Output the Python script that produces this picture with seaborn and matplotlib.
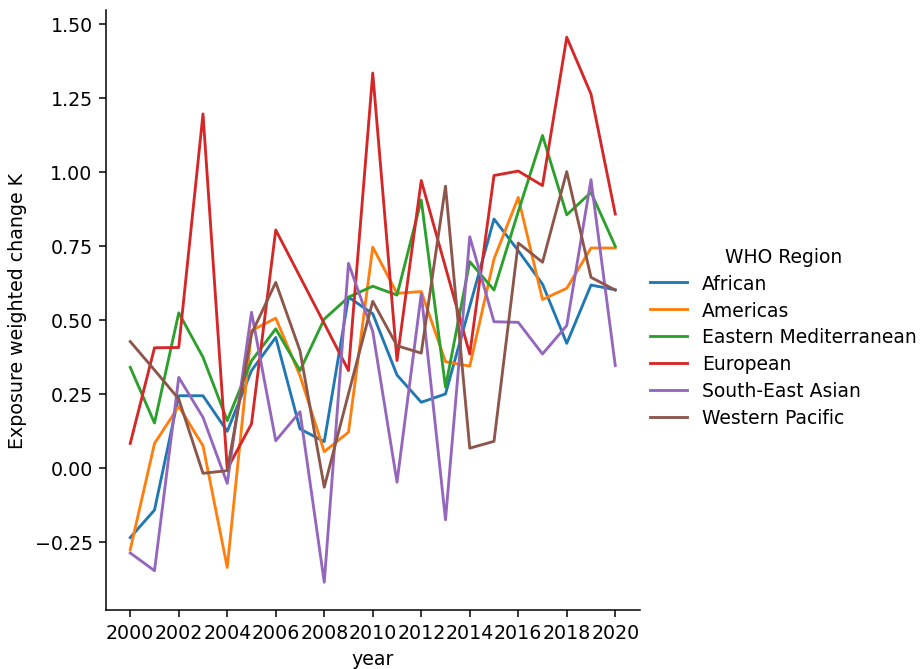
import matplotlib
matplotlib.use("Agg")
import matplotlib.pyplot as plt
import seaborn as sns
import pandas as pd

years = list(range(2000, 2021))
regions = ["African", "Americas", "Eastern Mediterranean", "European",
           "South-East Asian", "Western Pacific"]

african = [-0.236, -0.143, 0.243, 0.243, 0.123, 0.328, 0.440, 0.131, 0.088, 0.576, 0.520,
           0.313, 0.221, 0.249, 0.545, 0.840, 0.733, 0.620, 0.420, 0.617, 0.601]
americas = [-0.277, 0.082, 0.207, 0.074, -0.337, 0.463, 0.505, 0.311, 0.054, 0.120, 0.745,
            0.589, 0.595, 0.358, 0.343, 0.705, 0.913, 0.568, 0.606, 0.742, 0.742]
eastern_med = [0.339, 0.151, 0.523, 0.373, 0.159, 0.361, 0.469, 0.328, 0.502, 0.576, 0.613,
               0.583, 0.904, 0.272, 0.696, 0.600, 0.865, 1.122, 0.854, 0.930, 0.748]
european = [0.082, 0.405, 0.406, 1.195, -0.004, 0.148, 0.803, 0.645, 0.487, 0.328, 1.333,
            0.362, 0.970, 0.677, 0.384, 0.987, 1.002, 0.953, 1.454, 1.262, 0.857]
south_east_asian = [-0.288, -0.348, 0.305, 0.170, -0.053, 0.525, 0.091, 0.189, -0.387, 0.690, 0.460,
                    -0.049, 0.587, -0.176, 0.780, 0.493, 0.491, 0.384, 0.480, 0.973, 0.345]
western_pacific = [0.426, 0.330, 0.232, -0.019, -0.010, 0.452, 0.626, 0.395, -0.066, 0.250, 0.562,
                   0.412, 0.387, 0.951, 0.066, 0.089, 0.759, 0.694, 1.000, 0.643, 0.600]

series = [african, americas, eastern_med, european, south_east_asian, western_pacific]
rows = []
for reg, vals in zip(regions, series):
    for y, v in zip(years, vals):
        rows.append({"year": y, "WHO Region": reg, "Exposure weighted change K": v})
df = pd.DataFrame(rows)

DPI = 137
fig = plt.figure(figsize=(921 / DPI, 670 / DPI), dpi=DPI)
W, H = 921, 670
left, right, top, bottom = 106, 639.5, 11, 610.5
ax = fig.add_axes([left / W, (H - bottom) / H, (right - left) / W, (bottom - top) / H])

sns.lineplot(data=df, x="year", y="Exposure weighted change K", hue="WHO Region",
             hue_order=regions, palette="tab10", ax=ax, legend=True)
sns.despine(ax=ax)
ax.set_xticks(range(2000, 2021, 2))

handles, labels = ax.get_legend_handles_labels()
ax.get_legend().remove()
fig.legend(handles, labels, title="WHO Region", loc="center left",
           bbox_to_anchor=(633 / W, 1 - 338 / H), frameon=False,
           fontsize=9.85, title_fontsize=9.85, labelspacing=0.42)

fig.savefig("out.png", dpi=DPI)
